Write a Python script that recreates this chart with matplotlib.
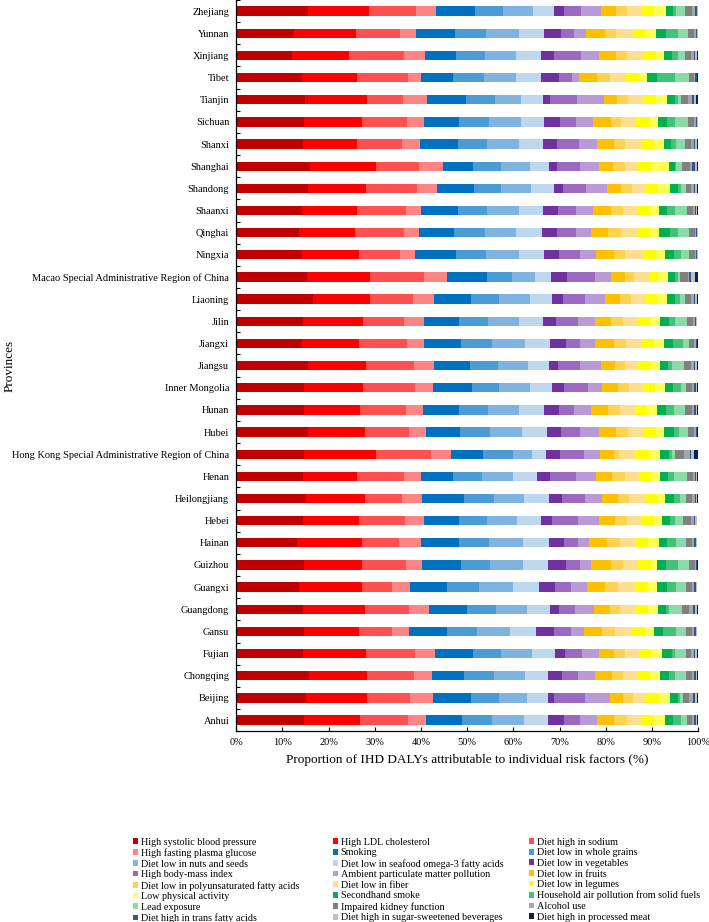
import numpy as np
import matplotlib
matplotlib.use('Agg')
import matplotlib.pyplot as plt
from matplotlib.patches import Patch

plt.rcParams['font.family'] = ['Liberation Serif', 'DejaVu Serif']

# provinces, top to bottom as shown
provinces = ['Zhejiang', 'Yunnan', 'Xinjiang', 'Tibet', 'Tianjin', 'Sichuan', 'Shanxi',
             'Shanghai', 'Shandong', 'Shaanxi', 'Qinghai', 'Ningxia',
             'Macao Special Administrative Region of China', 'Liaoning', 'Jilin', 'Jiangxi',
             'Jiangsu', 'Inner Mongolia', 'Hunan', 'Hubei',
             'Hong Kong Special Administrative Region of China', 'Henan', 'Heilongjiang',
             'Hebei', 'Hainan', 'Guizhou', 'Guangxi', 'Guangdong', 'Gansu', 'Fujian',
             'Chongqing', 'Beijing', 'Anhui']

# share of IHD DALYs (%) per risk factor, same province order
sbp = [15.5, 12.6, 12.2, 14.2, 14.9, 14.7, 14.4, 15.9, 15.5, 14.2, 13.7, 14.2, 15.3, 16.6, 14.4, 14.2, 15.5,
       14.7, 14.7, 15.5, 14.6, 14.4, 15.2, 14.4, 13.1, 14.7, 13.5, 14.4, 14.7, 14.4, 15.8, 15.1, 14.7]
ldl = [13.3, 13.4, 12.3, 11.9, 13.4, 12.6, 11.7, 14.4, 12.6, 11.9, 12.1, 12.3, 13.7, 12.4, 13.0, 12.3, 12.6,
       12.7, 12.1, 12.3, 15.7, 11.7, 12.6, 12.2, 14.2, 12.6, 13.8, 13.5, 11.8, 13.7, 12.5, 13.3, 12.0]
sodium = [10.2, 9.5, 11.9, 11.1, 7.7, 9.6, 9.8, 9.3, 11.1, 10.6, 10.6, 8.9, 11.7, 9.2, 9.0, 10.4, 10.3,
          11.2, 10.0, 9.5, 11.8, 10.3, 8.1, 10.0, 8.0, 9.5, 6.5, 9.4, 7.2, 10.6, 10.1, 9.3, 10.4]
fpg = [4.3, 3.5, 4.4, 2.8, 5.3, 3.8, 3.9, 5.1, 4.2, 3.3, 3.2, 3.3, 5.0, 4.7, 4.3, 3.8, 4.5,
       3.9, 3.7, 3.8, 4.4, 3.6, 4.3, 4.1, 4.7, 3.4, 3.9, 4.5, 3.6, 4.4, 4.0, 4.8, 4.0]
smoking = [8.4, 8.4, 6.8, 7.0, 8.5, 7.6, 8.1, 6.5, 8.0, 8.0, 7.6, 8.8, 8.6, 8.0, 7.6, 8.0, 7.7,
           8.5, 7.8, 7.4, 6.9, 6.9, 9.2, 7.6, 8.3, 8.5, 8.0, 8.2, 8.3, 8.1, 7.0, 8.4, 7.7]
whole_grains = [6.0, 6.6, 6.3, 6.6, 6.1, 6.4, 6.4, 6.2, 6.0, 6.3, 6.6, 6.6, 5.4, 6.0, 6.2, 6.7, 6.0,
                5.9, 6.3, 6.5, 6.5, 6.3, 6.3, 6.0, 6.5, 6.3, 6.8, 6.3, 6.6, 6.2, 6.4, 6.0, 6.5]
nuts = [6.5, 7.1, 6.7, 7.0, 5.8, 7.0, 6.8, 6.2, 6.5, 6.9, 6.8, 7.0, 5.0, 6.6, 6.8, 7.2, 6.5,
        6.6, 6.7, 6.9, 4.2, 6.8, 6.6, 6.5, 7.2, 7.0, 7.4, 6.7, 7.1, 6.7, 6.8, 6.1, 6.9]
seafood = [4.5, 5.6, 5.3, 5.4, 4.7, 5.0, 5.3, 4.1, 4.8, 5.2, 5.6, 5.5, 3.5, 4.9, 5.1, 5.2, 4.5,
           4.9, 5.3, 5.3, 3.0, 5.2, 5.3, 5.1, 5.6, 5.5, 5.6, 4.8, 5.6, 4.8, 4.9, 4.5, 5.3]
vegetables = [2.2, 3.6, 2.9, 3.8, 1.4, 3.3, 3.1, 1.8, 2.0, 3.2, 3.3, 3.2, 3.4, 2.3, 2.7, 3.6, 2.0,
              2.5, 3.2, 3.0, 2.9, 2.8, 2.9, 2.5, 3.3, 3.8, 3.5, 2.0, 3.8, 2.2, 3.0, 1.3, 3.4]
bmi = [3.8, 2.9, 5.9, 2.9, 6.0, 3.6, 4.7, 4.8, 5.1, 4.0, 4.1, 4.5, 6.1, 4.8, 4.9, 3.1, 4.9,
       5.2, 3.2, 4.1, 5.2, 5.6, 5.0, 5.6, 3.1, 3.0, 3.5, 3.6, 3.7, 3.8, 3.5, 6.6, 3.6]
pm = [4.3, 2.6, 3.8, 1.4, 5.7, 3.6, 3.9, 4.3, 4.5, 3.7, 3.2, 3.6, 3.3, 4.4, 3.7, 3.1, 4.5,
      3.1, 3.7, 4.2, 3.6, 4.2, 3.6, 4.6, 2.3, 2.5, 3.5, 4.0, 2.8, 3.6, 3.7, 5.4, 3.6]
fruits = [3.2, 3.9, 3.7, 4.0, 3.0, 3.8, 3.6, 2.9, 3.0, 3.7, 3.6, 3.8, 3.1, 3.2, 3.5, 4.1, 3.0,
          3.4, 3.7, 3.7, 2.9, 3.6, 3.5, 3.3, 3.9, 4.2, 3.9, 3.4, 4.0, 3.2, 3.6, 3.0, 3.6]
pufa = [2.4, 2.5, 2.4, 2.7, 2.3, 2.3, 2.4, 2.6, 2.4, 2.7, 2.8, 2.4, 2.0, 2.4, 2.5, 2.6, 2.1,
        2.4, 2.6, 2.6, 1.1, 2.7, 2.5, 2.7, 2.9, 2.7, 2.7, 2.3, 2.8, 2.4, 2.4, 2.1, 2.9]
fiber = [3.1, 3.9, 3.4, 3.5, 3.2, 3.3, 3.6, 2.8, 2.9, 3.1, 3.6, 3.9, 3.4, 2.9, 3.1, 3.4, 2.7,
         3.0, 3.2, 3.2, 3.6, 3.1, 3.4, 3.1, 3.3, 3.2, 3.8, 3.1, 3.5, 3.1, 3.1, 2.8, 3.3]
legumes = [2.7, 2.6, 2.8, 2.9, 2.9, 2.9, 2.7, 2.8, 2.7, 2.7, 2.7, 2.8, 1.8, 2.7, 2.8, 2.7, 2.9,
           2.7, 2.7, 2.8, 2.9, 2.6, 2.6, 2.6, 2.8, 2.8, 2.5, 2.9, 2.9, 2.6, 2.7, 2.8, 2.6]
physical = [2.7, 2.2, 1.8, 1.7, 2.3, 1.8, 2.1, 3.9, 2.5, 2.0, 1.9, 1.9, 2.1, 2.1, 2.2, 2.2, 2.1,
            2.0, 2.2, 1.8, 2.5, 1.8, 1.6, 1.9, 2.2, 1.4, 2.2, 2.2, 1.9, 2.4, 2.3, 2.3, 2.2]
secondhand = [1.5, 2.0, 1.7, 2.2, 1.8, 1.9, 1.5, 1.3, 1.7, 1.8, 2.4, 2.0, 1.5, 1.8, 1.8, 1.9, 1.6,
              1.8, 2.0, 2.1, 1.8, 1.8, 2.0, 1.7, 1.8, 1.8, 2.1, 1.6, 2.1, 2.0, 1.8, 1.7, 1.8]
household = [0.5, 2.7, 1.4, 3.8, 0.6, 1.7, 1.2, 0.3, 0.8, 1.7, 1.9, 1.6, 0.7, 1.0, 1.3, 2.2, 0.8,
             1.8, 1.6, 1.1, 0.6, 1.3, 1.4, 1.0, 1.9, 2.6, 1.9, 0.7, 2.8, 0.8, 1.4, 0.5, 1.8]
lead = [2.1, 2.2, 1.5, 3.0, 0.7, 2.9, 2.0, 1.3, 1.0, 2.5, 2.3, 1.7, 0.5, 1.2, 2.6, 1.3, 2.8,
        1.1, 2.5, 2.0, 0.8, 2.8, 1.3, 1.8, 2.3, 2.5, 2.3, 2.9, 2.2, 2.3, 2.4, 0.7, 1.2]
kidney = [1.5, 1.2, 1.3, 1.1, 1.5, 1.2, 1.3, 1.6, 1.2, 1.3, 1.2, 1.2, 1.7, 1.3, 1.3, 1.0, 1.5,
          1.3, 1.4, 1.3, 1.8, 1.3, 1.3, 1.8, 1.3, 1.2, 1.3, 1.5, 1.3, 1.2, 1.3, 1.3, 1.2]
alcohol = [0.5, 0.4, 0.5, 0.2, 0.9, 0.4, 0.5, 0.6, 0.5, 0.4, 0.3, 0.3, 0.2, 0.5, 0.4, 0.4, 0.5,
           0.4, 0.5, 0.3, 1.3, 0.4, 0.5, 0.5, 0.4, 0.3, 0.4, 0.8, 0.4, 0.5, 0.4, 0.8, 0.4]
trans_fat = [0.4, 0.3, 0.3, 0.5, 0.4, 0.3, 0.3, 0.5, 0.3, 0.3, 0.2, 0.2, 0.3, 0.3, 0.2, 0.2, 0.3,
             0.3, 0.3, 0.2, 0.4, 0.3, 0.3, 0.3, 0.3, 0.2, 0.3, 0.4, 0.3, 0.3, 0.3, 0.4, 0.3]
ssb = [0.3, 0.2, 0.3, 0.1, 0.4, 0.2, 0.3, 0.4, 0.3, 0.2, 0.2, 0.2, 1.0, 0.3, 0.2, 0.2, 0.4,
       0.3, 0.3, 0.2, 0.6, 0.2, 0.3, 0.3, 0.2, 0.1, 0.2, 0.4, 0.2, 0.4, 0.3, 0.4, 0.3]
processed_meat = [0.4, 0.2, 0.3, 0.1, 0.4, 0.1, 0.3, 0.4, 0.4, 0.2, 0.1, 0.1, 0.6, 0.3, 0.2, 0.2, 0.3,
                  0.3, 0.3, 0.2, 0.9, 0.2, 0.2, 0.2, 0.2, 0.2, 0.2, 0.4, 0.2, 0.3, 0.3, 0.4, 0.3]

factors = [
    ('High systolic blood pressure', sbp, '#C00000'),
    ('High LDL cholesterol', ldl, '#FF0000'),
    ('Diet high in sodium', sodium, '#FF5050'),
    ('High fasting plasma glucose', fpg, '#FF8585'),
    ('Smoking', smoking, '#0070C0'),
    ('Diet low in whole grains', whole_grains, '#4B9BD5'),
    ('Diet low in nuts and seeds', nuts, '#80B4E0'),
    ('Diet low in seafood omega-3 fatty acids', seafood, '#BDD7EE'),
    ('Diet low in vegetables', vegetables, '#7030A0'),
    ('High body-mass index', bmi, '#9B69BF'),
    ('Ambient particulate matter pollution', pm, '#B99AD6'),
    ('Diet low in fruits', fruits, '#FFC000'),
    ('Diet low in polyunsaturated fatty acids', pufa, '#FFD24F'),
    ('Diet low in fiber', fiber, '#FFDF8F'),
    ('Diet low in legumes', legumes, '#FFFF00'),
    ('Low physical activity', physical, '#FFFF55'),
    ('Secondhand smoke', secondhand, '#00B050'),
    ('Household air pollution from solid fuels', household, '#45C27A'),
    ('Lead exposure', lead, '#8ADBA8'),
    ('Impaired kidney function', kidney, '#808080'),
    ('Alcohol use', alcohol, '#A6A6A6'),
    ('Diet high in trans fatty acids', trans_fat, '#2F5597'),
    ('Diet high in sugar-sweetened beverages', ssb, '#C0C0C0'),
    ('Diet high in processed meat', processed_meat, '#002060'),
]

fig = plt.figure(figsize=(7.09, 9.22), dpi=100)
ax = fig.add_axes([0.333, 0.207, 0.652, 0.793])

y = np.arange(len(provinces))
left = np.zeros(len(provinces))
for name, vals, col in factors:
    ax.barh(y, vals, left=left, height=0.42, color=col, linewidth=0)
    left += np.array(vals)

ax.set_xlim(0, 100)
ax.set_ylim(len(provinces) - 0.5, -0.5)
ax.set_xticks(range(0, 101, 10))
ax.set_xticklabels([f'{v}%' for v in range(0, 101, 10)], fontsize=7.5)
ax.set_yticks(y)
ax.set_yticklabels(provinces, fontsize=7.5)
ax.set_yticks(np.arange(-0.5, len(provinces), 1), minor=True)
ax.tick_params(axis='y', which='major', length=0, pad=5)
ax.tick_params(axis='y', which='minor', length=3, direction='in', width=0.8)
ax.tick_params(axis='x', which='major', length=3, direction='in', width=0.8, pad=5)
for s in ['top', 'right']:
    ax.spines[s].set_visible(False)
ax.spines['left'].set_linewidth(0.9)
ax.spines['bottom'].set_linewidth(0.9)

ax.set_xlabel('Proportion of IHD DALYs attributable to individual risk factors (%)', fontsize=9.5, labelpad=5)
ax.set_ylabel('Provinces', fontsize=9.5)
ax.yaxis.set_label_coords(-0.477, 0.5)

# legend in three columns, filled row by row
handles = [Patch(facecolor=c, edgecolor='none', label=n) for n, v, c in factors]
col_x = [0.1876, 0.470, 0.746]
for k in range(3):
    fig.legend(handles=handles[k::3], loc='upper left', bbox_to_anchor=(col_x[k], 0.0915),
               frameon=False, fontsize=7.3, handlelength=0.5, handleheight=0.5,
               handletextpad=0.25, labelspacing=0.16, borderpad=0, borderaxespad=0)

fig.savefig('out.png', dpi=100)
